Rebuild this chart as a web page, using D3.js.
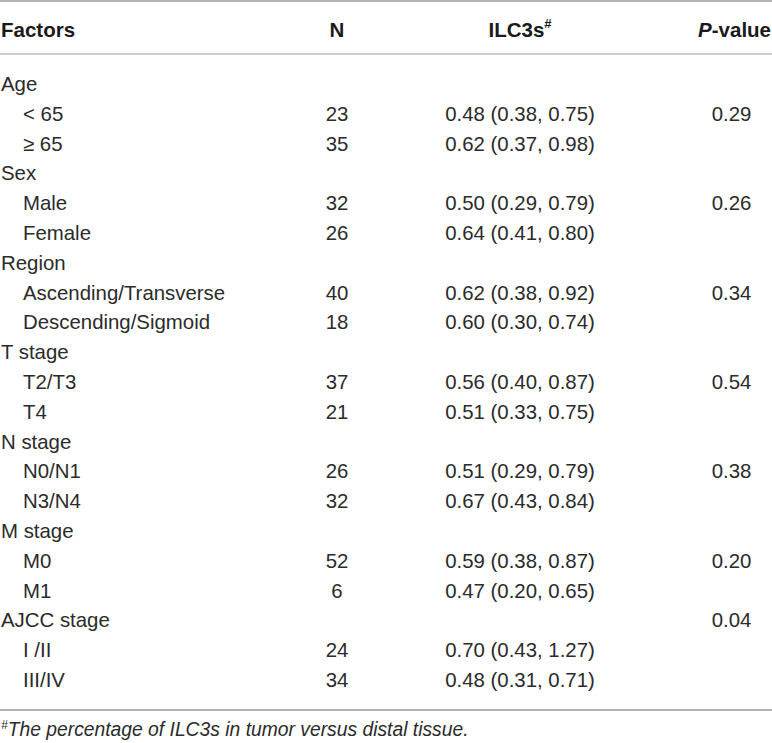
<!DOCTYPE html>
<html>
<head>
<meta charset="utf-8">
<script src="https://cdn.jsdelivr.net/npm/d3@7"></script>
<style>
  html, body { margin: 0; padding: 0; background: #fff; }
  svg { display: block; }
</style>
</head>
<body>
<svg id="chart" width="772" height="743"></svg>
<script>
const headers = ["Factors", "N", "ILC3s", "P-value"];
const factors = ["Age", "< 65", "\u2265 65", "Sex", "Male", "Female", "Region", "Ascending/Transverse", "Descending/Sigmoid", "T stage", "T2/T3", "T4", "N stage", "N0/N1", "N3/N4", "M stage", "M0", "M1", "AJCC stage", "I /II", "III/IV"];
const isGroup = [true, false, false, true, false, false, true, false, false, true, false, false, true, false, false, true, false, false, true, false, false];
const nValues = ["", "23", "35", "", "32", "26", "", "40", "18", "", "37", "21", "", "26", "32", "", "52", "6", "", "24", "34"];
const ilcValues = ["", "0.48 (0.38, 0.75)", "0.62 (0.37, 0.98)", "", "0.50 (0.29, 0.79)", "0.64 (0.41, 0.80)", "", "0.62 (0.38, 0.92)", "0.60 (0.30, 0.74)", "", "0.56 (0.40, 0.87)", "0.51 (0.33, 0.75)", "", "0.51 (0.29, 0.79)", "0.67 (0.43, 0.84)", "", "0.59 (0.38, 0.87)", "0.47 (0.20, 0.65)", "", "0.70 (0.43, 1.27)", "0.48 (0.31, 0.71)"];
const pValues = ["", "0.29", "", "", "0.26", "", "", "0.34", "", "", "0.54", "", "", "0.38", "", "", "0.20", "", "0.04", "", ""];
const footnote = "The percentage of ILC3s in tumor versus distal tissue.";

const svg = d3.select("#chart");
const W = 772;
const font = "'Liberation Sans', Arial, Helvetica, sans-serif";
const textColor = "#2b2b2b";
const lineColor = "#9a9a9a";

const y = d3.scaleLinear().domain([0, factors.length - 1]).range([91, 687]);
const colX = { factor: 1, indent: 23, n: 337, ilc: 520, p: 731.5 };

// rules
[[1, 1.6], [54, 1.2], [710, 1.4]].forEach(([yy, w]) => {
  svg.append("line").attr("x1", 0).attr("x2", W).attr("y1", yy).attr("y2", yy)
    .attr("stroke", lineColor).attr("stroke-width", w);
});

// header
const hy = 36.5;
const hg = svg.append("g").attr("font-family", font).attr("font-size", 20.5)
  .attr("font-weight", "bold").attr("fill", "#1a1a1a");
hg.append("text").attr("x", colX.factor).attr("y", hy).text(headers[0]);
hg.append("text").attr("x", colX.n).attr("y", hy).attr("text-anchor", "middle").text(headers[1]);
const ht = hg.append("text").attr("x", colX.ilc).attr("y", hy).attr("text-anchor", "middle");
ht.append("tspan").text(headers[2]);
ht.append("tspan").attr("font-size", 13).attr("dy", -9).text("#");
const pt = hg.append("text").attr("x", 771).attr("y", hy).attr("text-anchor", "end");
pt.append("tspan").attr("font-style", "italic").text(headers[3].slice(0, 1));
pt.append("tspan").text(headers[3].slice(1));

// body
const bg = svg.append("g").attr("font-family", font).attr("font-size", 20.4).attr("fill", textColor);
const rows = bg.selectAll("g.row").data(factors.map((f, i) => ({ f, i })))
  .join("g").attr("class", "row").attr("transform", d => `translate(0,${y(d.i)})`);
rows.append("text").attr("x", d => isGroup[d.i] ? colX.factor : colX.indent).text(d => d.f);
rows.append("text").attr("x", colX.n).attr("text-anchor", "middle").text(d => nValues[d.i]);
rows.append("text").attr("x", colX.ilc).attr("text-anchor", "middle").text(d => ilcValues[d.i]);
rows.append("text").attr("x", colX.p).attr("text-anchor", "middle").text(d => pValues[d.i]);

// footnote
const ft = svg.append("text").attr("x", 1).attr("y", 736).attr("font-family", font)
  .attr("font-size", 19.3).attr("font-style", "italic").attr("fill", textColor);
ft.append("tspan").attr("font-size", 12).attr("dy", -7).text("#");
ft.append("tspan").attr("dy", 7).text(footnote);
</script>
</body>
</html>
